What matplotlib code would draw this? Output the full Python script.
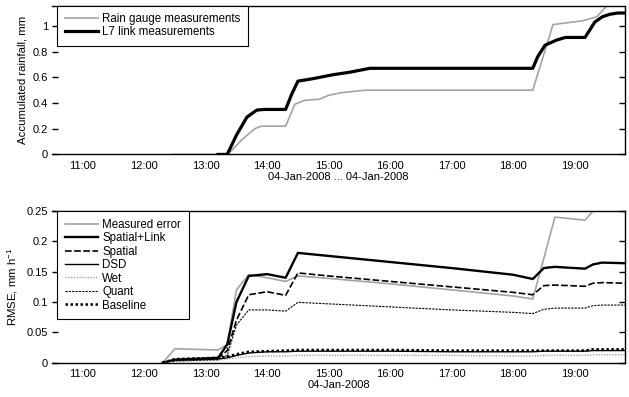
import matplotlib
matplotlib.use("Agg")
import matplotlib.pyplot as plt
import matplotlib.dates as mdates
from datetime import datetime, timedelta

plt.rcParams['font.family'] = ['Liberation Sans', 'DejaVu Sans']
plt.rcParams['font.size'] = 8
plt.rcParams['mathtext.fontset'] = 'custom'
plt.rcParams['mathtext.rm'] = 'Liberation Sans'

# ---------------- data (times in decimal hours on 04-Jan-2008) ----------------
gauge_t = [12.45, 13.30, 13.40, 13.60, 13.80, 13.90, 14.30, 14.45, 14.60, 14.85,
           15.00, 15.20, 15.60, 18.32, 18.65, 19.13, 19.36, 19.55, 19.82]
gauge_v = [0.0, 0.0, 0.02, 0.12, 0.20, 0.22, 0.22, 0.39, 0.42, 0.43,
           0.46, 0.48, 0.50, 0.50, 1.01, 1.04, 1.07, 1.17, 1.22]

link_t = [13.20, 13.35, 13.50, 13.67, 13.83, 13.95, 14.30, 14.40, 14.50, 14.75,
          15.07, 15.35, 15.67, 18.32, 18.40, 18.52, 18.71, 18.85, 19.17, 19.33,
          19.45, 19.57, 19.70, 19.82]
link_v = [0.0, 0.0, 0.15, 0.29, 0.345, 0.35, 0.35, 0.47, 0.57, 0.59,
          0.62, 0.64, 0.67, 0.67, 0.76, 0.85, 0.89, 0.91, 0.91, 1.03,
          1.07, 1.09, 1.10, 1.10]

err_t = [12.30, 12.50, 13.20, 13.35, 13.50, 13.70, 14.00, 14.30, 14.50, 15.00,
         16.00, 17.00, 18.00, 18.32, 18.50, 18.68, 19.17, 19.30, 19.45, 19.82]
measured = [0.0, 0.023, 0.021, 0.030, 0.120, 0.145, 0.140, 0.134, 0.143, 0.139,
            0.130, 0.120, 0.110, 0.105, 0.172, 0.240, 0.235, 0.250, 0.260, 0.260]
spatial_link = [0.0, 0.005, 0.008, 0.030, 0.100, 0.143, 0.146, 0.140, 0.181, 0.176,
                0.166, 0.156, 0.145, 0.138, 0.156, 0.158, 0.155, 0.162, 0.165, 0.164]
spatial = [0.0, 0.004, 0.007, 0.020, 0.070, 0.112, 0.117, 0.111, 0.148, 0.143,
           0.134, 0.125, 0.116, 0.112, 0.127, 0.128, 0.126, 0.131, 0.132, 0.131]
dsd = [0.0, 0.004, 0.006, 0.008, 0.012, 0.016, 0.018, 0.018, 0.019, 0.019,
       0.019, 0.018, 0.018, 0.018, 0.019, 0.019, 0.019, 0.020, 0.020, 0.020]
wet = [0.0, 0.002, 0.004, 0.006, 0.008, 0.010, 0.011, 0.011, 0.012, 0.012,
       0.012, 0.012, 0.011, 0.011, 0.012, 0.012, 0.012, 0.013, 0.013, 0.013]
quant = [0.0, 0.003, 0.005, 0.012, 0.062, 0.087, 0.087, 0.085, 0.0995, 0.097,
         0.092, 0.087, 0.083, 0.081, 0.088, 0.090, 0.090, 0.094, 0.095, 0.095]
baseline = [0.0, 0.006, 0.008, 0.010, 0.014, 0.018, 0.019, 0.020, 0.021, 0.021,
            0.021, 0.020, 0.020, 0.020, 0.020, 0.020, 0.020, 0.022, 0.022, 0.022]

top_yticks = [0, 0.2, 0.4, 0.6, 0.8, 1]
top_yticklabels = ['0', '0.2', '0.4', '0.6', '0.8', '1']
bot_yticks = [0, 0.05, 0.1, 0.15, 0.2, 0.25]
bot_yticklabels = ['0', '0.05', '0.1', '0.15', '0.2', '0.25']

day = datetime(2008, 1, 4)
def to_dt(hours):
    return [day + timedelta(hours=h) for h in hours]

GRAY = '#a3a3a3'
xmin = day + timedelta(hours=10.5)
xmax = day + timedelta(hours=19.82)

fig = plt.figure(figsize=(6.29, 3.97), dpi=100)
ax1 = fig.add_axes([0.0827, 0.611, 0.9109, 0.374])
ax2 = fig.add_axes([0.0827, 0.0864, 0.9109, 0.382])

def style_axis(ax):
    ax.set_xlim(xmin, xmax)
    ax.spines['left'].set_visible(False)
    for s in ['top', 'right', 'bottom']:
        ax.spines[s].set_linewidth(1.0)
    ax.xaxis.set_major_locator(mdates.HourLocator(byhour=range(11, 20)))
    ax.xaxis.set_major_formatter(mdates.DateFormatter('%H:%M'))
    ax.xaxis.set_minor_locator(mdates.HourLocator(byhour=[11, 13, 15, 17, 19]))
    ax.tick_params(axis='x', which='major', length=0, pad=4.5, labelsize=8)
    ax.tick_params(axis='x', which='minor', direction='in', length=4, width=1,
                   top=True, bottom=True)
    ax.tick_params(axis='y', direction='in', length=4, width=1, left=True,
                   right=True, pad=3, labelsize=8)

legend_kw = dict(loc='upper left', borderaxespad=0, fontsize=8.3, handlelength=2.9,
                 handletextpad=0.35, borderpad=0.65, fancybox=False, framealpha=1,
                 edgecolor='black')

# ---- top panel ----
ax1.plot(to_dt(gauge_t), gauge_v, color=GRAY, lw=1.2, label='Rain gauge measurements')
ax1.plot(to_dt(link_t), link_v, color='black', lw=2.3, label='L7 link measurements')
style_axis(ax1)
ax1.set_ylim(0, 1.155)
ax1.set_yticks(top_yticks)
ax1.set_yticklabels(top_yticklabels)
ax1.set_ylabel('Accumulated rainfall, mm', fontsize=8.2)
ax1.yaxis.set_label_coords(-0.043, 0.5)
ax1.set_xlabel('04-Jan-2008 ... 04-Jan-2008', fontsize=8, labelpad=1)
leg1 = ax1.legend(bbox_to_anchor=(0.009, 1.0), labelspacing=0.08, **legend_kw)
leg1.get_frame().set_linewidth(0.8)

# ---- bottom panel ----
et = to_dt(err_t)
ax2.plot(et, measured, color=GRAY, lw=1.2, label='Measured error')
ax2.plot(et, spatial_link, color='black', lw=1.7, label='Spatial+Link')
ax2.plot(et, spatial, color='black', lw=1.2, ls=(0, (4, 1.5)), label='Spatial')
ax2.plot(et, dsd, color='black', lw=1.0, label='DSD')
ax2.plot(et, wet, color=GRAY, lw=1.0, ls=(0, (1, 1)), label='Wet')
ax2.plot(et, quant, color='black', lw=0.8, ls=(0, (2, 1)), label='Quant')
ax2.plot(et, baseline, color='black', lw=1.8, ls=(0, (1, 1)), label='Baseline')
style_axis(ax2)
ax2.set_ylim(0, 0.25)
ax2.set_yticks(bot_yticks)
ax2.set_yticklabels(bot_yticklabels)
ax2.set_ylabel('RMSE, mm h$^{-1}$', fontsize=8.2)
ax2.yaxis.set_label_coords(-0.056, 0.5)
ax2.set_xlabel('04-Jan-2008', fontsize=8, labelpad=1)
leg2 = ax2.legend(bbox_to_anchor=(0.009, 1.0), labelspacing=0.13, **legend_kw)
leg2.get_frame().set_linewidth(0.8)

fig.savefig('out.png', dpi=100)
